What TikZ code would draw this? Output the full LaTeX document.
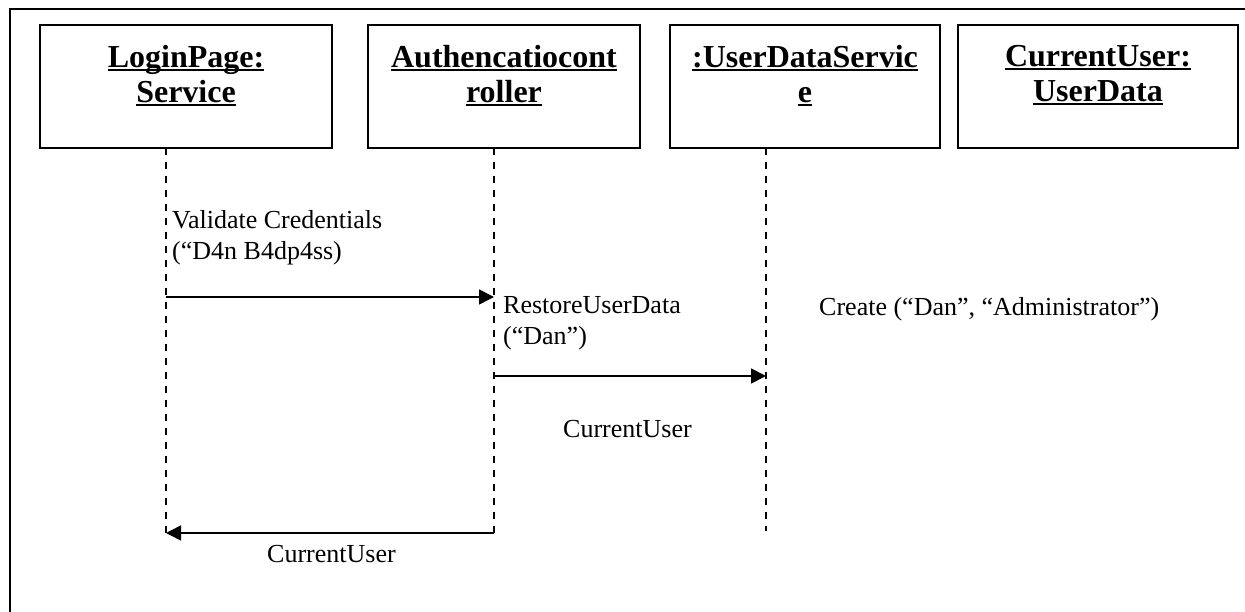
\documentclass[tikz,border=0pt]{standalone}
\usepackage{fontspec}
\setmainfont{Liberation Serif}
\usetikzlibrary{arrows.meta}
\newsavebox\undlbox
\newcommand\undl[1]{\sbox\undlbox{#1}\rlap{\rule[-3.5pt]{\wd\undlbox}{2pt}}\usebox\undlbox}
\tikzset{
objbox/.style={draw, line width=1.8pt, minimum height=123pt, inner sep=0pt},
objname/.style={anchor=north, align=center, inner sep=0pt, font=\fontsize{32}{35}\selectfont\bfseries},
lifeline/.style={line width=1.6pt, dash pattern=on 7pt off 7pt},
msg/.style={line width=1.6pt, -{Triangle[length=15pt,width=15pt]}},
msglabel/.style={inner sep=0pt, align=left, font=\fontsize{26}{31}\selectfont}
}
\begin{document}
\begin{tikzpicture}[x=1pt,y=-1pt]
\useasboundingbox (0,0) rectangle (1245,612);
\draw[line width=1.8pt] (10,612)--(10,9)--(1245,9);
\node[objbox, minimum width=292pt] (login) at (186,86.5) {};
\node[objbox, minimum width=272pt] (auth) at (504,86.5) {};
\node[objbox, minimum width=270pt] (uds) at (805,86.5) {};
\node[objbox, minimum width=280pt] (cur) at (1098,86.5) {};
\node[objname] (login name) at (186,45) {\undl{LoginPage:}\\\undl{Service}};
\node[objname] (auth name) at (504,45) {\undl{Authencatiocont}\\\undl{roller}};
\node[objname] (uds name) at (805,45) {\undl{:UserDataServic}\\\undl{e}};
\node[objname] (cur name) at (1098,45) {\undl{CurrentUser:}\\\undl{UserData}};
\coordinate (login top) at (166,148);
\coordinate (login bot) at (166,533);
\coordinate (auth top) at (494,148);
\coordinate (auth bot) at (494,533);
\coordinate (uds top) at (766,148);
\coordinate (uds bot) at (766,531);
\draw[lifeline] (login top)--(login bot);
\draw[lifeline] (auth top)--(auth bot);
\draw[lifeline] (uds top)--(uds bot);
\coordinate (validate from) at (166,297);
\coordinate (validate to) at (494,297);
\coordinate (restore from) at (494,376);
\coordinate (restore to) at (766,376);
\draw[msg] (validate from)--(validate to);
\draw[msg] (restore from)--(restore to);
\draw[msg] (auth bot)--(login bot);
\node[msglabel, anchor=north west] (validate) at (172,210) {Validate Credentials\\(“D4n B4dp4ss)};
\node[msglabel, anchor=north west] (restore) at (503,296) {RestoreUserData\\(“Dan”)};
\node[msglabel, anchor=base west] (create) at (819,316) {Create (“Dan”, “Administrator”)};
\node[msglabel, anchor=base west] (reply one) at (563,437) {CurrentUser};
\node[msglabel, anchor=base west] (reply two) at (267,562) {CurrentUser};
\end{tikzpicture}
\end{document}
